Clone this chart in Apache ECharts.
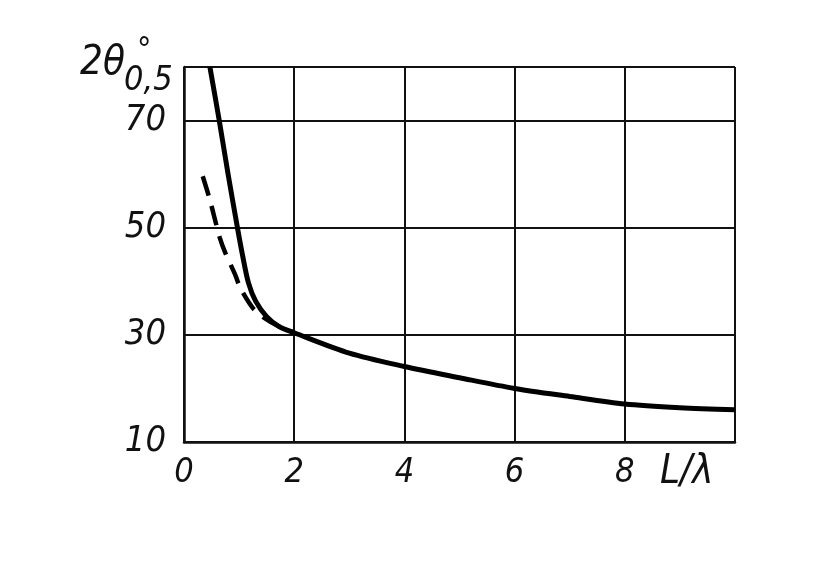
<!DOCTYPE html>
<html>
<head>
<meta charset="utf-8">
<script src="https://cdn.jsdelivr.net/npm/echarts@6/dist/echarts.min.js"></script>
<style>html,body{margin:0;padding:0;background:#fff;}#c{width:836px;height:563px;}</style>
</head>
<body>
<div id="c"></div>
<script>
var solidX = [0.47, 0.64, 0.80, 0.97, 1.06, 1.17, 1.30, 1.50, 1.72, 2.0, 3.0, 4.0, 5.0, 6.0, 7.0, 8.0, 9.0, 10.0];
var solidY = [80, 70, 60, 50, 45, 39.7, 36.3, 33.4, 31.6, 30.4, 26.6, 24.1, 22.0, 20.0, 18.5, 17.1, 16.4, 16.0];
var dashX = [0.34, 0.47, 0.55, 0.65, 0.75, 0.93, 1.02, 1.25, 1.45, 1.70, 2.0];
var dashY = [59.6, 55.2, 52.0, 48.1, 45.3, 41.2, 38.8, 35.0, 33.2, 31.7, 30.4];
var xTicks = [0, 2, 4, 6, 8];
var yTicks = [10, 30, 50, 70];

var font = "'Liberation Sans Narrow', 'DejaVu Sans Condensed', sans-serif";
function pairs(xs, ys){ return xs.map(function(x,i){ return [x, ys[i]]; }); }

var chart = echarts.init(document.getElementById('c'), null, {renderer:'canvas'});
chart.setOption({
  backgroundColor: '#fff',
  animation: false,
  grid: {left: 184, right: 101, top: 67, bottom: 121},
  xAxis: {
    type: 'value', min: 0, max: 10, interval: 2,
    axisLine: {show: true, lineStyle: {color: '#111', width: 2.5}},
    axisTick: {show: false},
    splitLine: {show: true, lineStyle: {color: '#111', width: 2}},
    axisLabel: {
      margin: 14, color: '#111', fontSize: 34, fontStyle: 'italic', fontFamily: font,
      formatter: function(v){ return xTicks.indexOf(v) >= 0 ? String(v) : ''; }
    }
  },
  yAxis: {
    type: 'value', min: 10, max: 80,
    axisLine: {show: true, lineStyle: {color: '#111', width: 2.5}},
    axisTick: {show: false, customValues: [10, 30, 50, 70, 80]},
    splitLine: {show: true, lineStyle: {color: '#111', width: 2}},
    axisLabel: {
      customValues: yTicks,
      margin: 18, color: '#111', fontSize: 36, fontStyle: 'italic', fontFamily: font
    }
  },
  series: [
    {
      type: 'line', data: pairs(solidX, solidY), smooth: 0.3, showSymbol: false,
      lineStyle: {color: '#000', width: 5}, z: 5
    },
    {
      type: 'line', data: pairs(dashX, dashY), smooth: 0.3, showSymbol: false,
      lineStyle: {color: '#000', width: 4.5, type: [20, 11]}, z: 4
    }
  ],
  graphic: [
    {type: 'text', left: 80, top: 44, style: {text: '2θ', font: 'italic 40px ' + font, fill: '#111'}},
    {type: 'text', left: 137, top: 36, style: {text: '°', font: 'italic 32px ' + font, fill: '#111'}},
    {type: 'text', left: 124, top: 64, style: {text: '0,5', font: 'italic 34px ' + font, fill: '#111'}},
    {type: 'text', left: 660, top: 453, style: {text: 'L/λ', font: 'italic 40px ' + font, fill: '#111'}}
  ]
});
</script>
</body>
</html>
